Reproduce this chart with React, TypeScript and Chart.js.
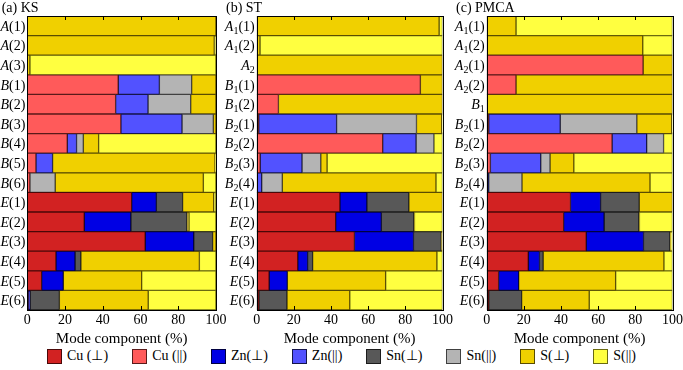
import React, { useEffect, useRef } from "react";
import { Chart, registerables } from "chart.js";
Chart.register(...registerables);

const SERIES_NAMES = ["Cu (⊥)", "Cu (||)", "Zn(⊥)", "Zn(||)", "Sn(⊥)", "Sn(||)", "S(⊥)", "S(||)"];
const SERIES_COLORS = ["#D22222", "#FF5A5A", "#0000E4", "#5252FF", "#585858", "#B4B4B4", "#F0D000", "#FFFF40"];
const SERIES_BORDERS = ["#4A0808", "#5A1A1A", "#000040", "#15154A", "#1C1C1C", "#404040", "#5A4C00", "#6A6A10"];
const X_TICKS = [0, 20, 40, 60, 80, 100];

// (a) KS
const ksLabels = ["A(1)", "A(2)", "A(3)", "B(1)", "B(2)", "B(3)", "B(4)", "B(5)", "B(6)", "E(1)", "E(2)", "E(3)", "E(4)", "E(5)", "E(6)"];
const ksCuPerp = [0, 0, 0, 0, 0, 0, 0, 0, 0, 55.3, 30.2, 62.5, 15.2, 7.6, 0.5];
const ksCuPar = [0, 0, 0, 48.2, 46.8, 49.6, 21.2, 4.6, 1.4, 0, 0, 0, 0, 0, 0];
const ksZnPerp = [0, 0, 0, 0, 0, 0, 0, 0, 0, 13.1, 24.7, 25.7, 10.1, 11.5, 1.0];
const ksZnPar = [0, 0, 0, 21.8, 17.2, 32.4, 4.9, 8.8, 0, 0, 0, 0, 0, 0, 0];
const ksSnPerp = [0, 0, 0, 0, 0, 0, 0, 0, 0, 13.9, 29.7, 10.0, 3.1, 0, 15.5];
const ksSnPar = [0, 0, 0, 17.1, 22.6, 16.6, 3.6, 0, 13.4, 0, 0, 0, 0, 0, 0];
const ksSPerp = [100, 99.1, 1.4, 12.9, 13.4, 1.4, 8.1, 86.1, 78.5, 16.5, 1.1, 1.8, 62.8, 41.5, 47.1];
const ksSPar = [0, 0.9, 98.6, 0, 0, 0, 62.2, 0.5, 6.7, 1.2, 14.3, 0, 8.8, 39.4, 35.9];

// (b) ST
const stLabels = ["A₁(1)", "A₁(2)", "A₂", "B₁(1)", "B₁(2)", "B₂(1)", "B₂(2)", "B₂(3)", "B₂(4)", "E(1)", "E(2)", "E(3)", "E(4)", "E(5)", "E(6)"];
const stCuPerp = [0, 0, 0, 0, 0, 0, 0, 0, 0, 44.8, 42.5, 52.6, 22.1, 6.7, 1.2];
const stCuPar = [0, 0, 0, 88.1, 11.7, 1.1, 67.8, 1.9, 0, 0, 0, 0, 0, 0, 0];
const stZnPerp = [0, 0, 0, 0, 0, 0, 0, 0, 0, 14.5, 24.6, 31.8, 5.3, 9.8, 0];
const stZnPar = [0, 0, 0, 0, 0, 41.9, 18.0, 22.5, 2.7, 0, 0, 0, 0, 0, 0];
const stSnPerp = [0, 0, 0, 0, 0, 0, 0, 0, 0, 22.6, 17.5, 14.9, 2.7, 0, 15.1];
const stSnPar = [0, 0, 0, 0, 0, 43.0, 9.6, 10.1, 11.1, 0, 0, 0, 0, 0, 0];
const stSPerp = [98.2, 1.8, 100, 11.9, 88.3, 13.6, 0, 3.4, 82.7, 18.1, 0.3, 0.7, 66.9, 52.9, 33.8];
const stSPar = [1.8, 98.2, 0, 0, 0, 0.4, 4.6, 62.1, 3.5, 0, 15.1, 0, 3.0, 30.6, 49.9];

// (c) PMCA
const pmLabels = ["A₁(1)", "A₁(2)", "A₂(1)", "A₂(2)", "B₁", "B₂(1)", "B₂(2)", "B₂(3)", "B₂(4)", "E(1)", "E(2)", "E(3)", "E(4)", "E(5)", "E(6)"];
const pmCuPerp = [0, 0, 0, 0, 0, 0, 0, 0, 0, 45.1, 41.4, 53.6, 22.4, 6.4, 1.1];
const pmCuPar = [0, 0, 84.2, 15.8, 0, 1.1, 67.5, 2.0, 0, 0, 0, 0, 0, 0, 0];
const pmZnPerp = [0, 0, 0, 0, 0, 0, 0, 0, 0, 16.2, 21.8, 30.8, 6.0, 10.8, 0];
const pmZnPar = [0, 0, 0, 0, 0, 38.5, 18.6, 27.1, 1.1, 0, 0, 0, 0, 0, 0];
const pmSnPerp = [0, 0, 0, 0, 0, 0, 0, 0, 0, 20.8, 18.7, 14.2, 2.0, 0, 17.7];
const pmSnPar = [0, 0, 0, 0, 0, 41.2, 9.1, 5.0, 17.9, 0, 0, 0, 0, 0, 0];
const pmSPerp = [15.8, 84.0, 15.8, 84.2, 100, 18.8, 0, 12.8, 68.9, 17.9, 0.3, 0.4, 65.0, 52.2, 36.4];
const pmSPar = [84.2, 16.0, 0, 0, 0, 0.4, 4.8, 53.1, 12.1, 0, 17.8, 1.0, 4.6, 30.6, 44.8];

const FONT = "'Liberation Serif', 'Times New Roman', serif";
const SUBS = "₀₁₂₃₄₅₆₇₈₉";

function drawRowLabel(ctx: CanvasRenderingContext2D, label: string, xRight: number, yMid: number) {
  const letter = label[0];
  let i = 1;
  let sub = "";
  while (i < label.length && SUBS.includes(label[i])) {
    sub += String(SUBS.indexOf(label[i]));
    i++;
  }
  const rest = label.slice(i);
  const fL = `italic 14px ${FONT}`;
  const fS = `10px ${FONT}`;
  const fR = `14px ${FONT}`;
  ctx.font = fL;
  const wL = ctx.measureText(letter).width;
  ctx.font = fS;
  const wS = sub ? ctx.measureText(sub).width : 0;
  ctx.font = fR;
  const wR = ctx.measureText(rest).width;
  let x = xRight - (wL + wS + wR);
  const base = yMid + 5;
  ctx.textAlign = "left";
  ctx.textBaseline = "alphabetic";
  ctx.fillStyle = "#000";
  ctx.font = fL;
  ctx.fillText(letter, x, base);
  x += wL;
  if (sub) {
    ctx.font = fS;
    ctx.fillText(sub, x, base + 3);
    x += wS;
  }
  ctx.font = fR;
  ctx.fillText(rest, x, base);
}

const decorPlugin = {
  id: "decor",
  afterDatasetsDraw(chart: any) {
    const ctx: CanvasRenderingContext2D = chart.ctx;
    const { left, right, top, bottom } = chart.chartArea;
    const opts = chart.options.plugins.decor;
    const xs = chart.scales.x;
    const ys = chart.scales.y;
    ctx.save();
    ctx.strokeStyle = "#000";
    ctx.lineWidth = 1;
    ctx.strokeRect(Math.round(left) + 0.5, Math.round(top) + 0.5, Math.round(right) - Math.round(left), Math.round(bottom) - Math.round(top));
    ctx.beginPath();
    X_TICKS.forEach((v) => {
      const px = Math.round(xs.getPixelForValue(v)) + 0.5;
      ctx.moveTo(px, top);
      ctx.lineTo(px, top + 4);
      ctx.moveTo(px, bottom);
      ctx.lineTo(px, bottom - 4);
    });
    ctx.stroke();
    chart.data.labels.forEach((lab: string, i: number) => {
      drawRowLabel(ctx, lab, left - 2, ys.getPixelForValue(i));
    });
    ctx.font = `14px ${FONT}`;
    ctx.fillStyle = "#000";
    ctx.textAlign = "left";
    ctx.textBaseline = "alphabetic";
    ctx.fillText(opts.title, opts.titleX, 12);
    ctx.restore();
  },
};

type PanelProps = {
  title: string;
  labels: string[];
  series: number[][];
  left: number;
  width: number;
  plotLeft: number;
  plotRight: number;
  titleX: number;
};

function Panel({ title, labels, series, left, width, plotLeft, plotRight, titleX }: PanelProps) {
  const ref = useRef<HTMLCanvasElement>(null);
  useEffect(() => {
    if (!ref.current) return;
    const chart = new Chart(ref.current, {
      type: "bar",
      data: {
        labels,
        datasets: series.map((vals, i) => ({
          label: SERIES_NAMES[i],
          data: vals.map((v) => (v > 0 ? v : null)),
          backgroundColor: SERIES_COLORS[i],
          borderColor: SERIES_BORDERS[i],
          borderWidth: 1,
          borderSkipped: false,
          barPercentage: 1,
          categoryPercentage: 1,
        })),
      },
      options: {
        indexAxis: "y",
        responsive: false,
        animation: false,
        layout: { padding: { top: 16, left: 0, right: width - plotRight, bottom: 0 } },
        plugins: {
          legend: { display: false },
          tooltip: { enabled: false },
          decor: { title, titleX },
        } as any,
        scales: {
          x: {
            stacked: true,
            min: 0,
            max: 100,
            position: "bottom",
            grid: { display: false, drawTicks: false },
            border: { display: false },
            ticks: {
              stepSize: 20,
              color: "#000",
              font: { family: FONT, size: 14, lineHeight: 1 },
              padding: 3,
              maxRotation: 0,
              autoSkip: false,
            },
            title: {
              display: true,
              text: "Mode component (%)",
              color: "#000",
              font: { family: FONT, size: 15, lineHeight: 1 },
              padding: { top: 2, bottom: 0 },
            },
          },
          y: {
            stacked: true,
            grid: { display: false, drawTicks: false },
            border: { display: false },
            ticks: { display: false },
            afterFit: (s: any) => {
              s.width = plotLeft;
            },
          },
        },
      } as any,
      plugins: [decorPlugin],
    });
    return () => chart.destroy();
  }, []);
  return (
    <canvas
      ref={ref}
      width={width}
      height={347}
      style={{ position: "absolute", left, top: 0, width, height: 347 }}
    />
  );
}

export default function App() {
  const ks = [ksCuPerp, ksCuPar, ksZnPerp, ksZnPar, ksSnPerp, ksSnPar, ksSPerp, ksSPar];
  const st = [stCuPerp, stCuPar, stZnPerp, stZnPar, stSnPerp, stSnPar, stSPerp, stSPar];
  const pm = [pmCuPerp, pmCuPar, pmZnPerp, pmZnPar, pmSnPerp, pmSnPar, pmSPerp, pmSPar];
  return (
    <div style={{ position: "absolute", left: 0, top: 0, width: 683, height: 370, overflow: "hidden", background: "#fff" }}>
      <Panel title="(a) KS" labels={ksLabels} series={ks} left={0} width={232} plotLeft={27.3} plotRight={216} titleX={1.7} />
      <Panel title="(b) ST" labels={stLabels} series={st} left={224} width={232} plotLeft={32.7} plotRight={221} titleX={2} />
      <Panel title="(c) PMCA" labels={pmLabels} series={pm} left={454} width={232} plotLeft={32.7} plotRight={220} titleX={2} />
      <div
        style={{
          position: "absolute",
          left: 0,
          top: 348,
          width: 683,
          display: "flex",
          justifyContent: "center",
          alignItems: "center",
          gap: 24,
          fontFamily: FONT,
          fontSize: 14,
          lineHeight: "16px",
          color: "#000",
        }}
      >
        {SERIES_NAMES.map((n, i) => (
          <div key={n} style={{ display: "flex", alignItems: "center" }}>
            <span
              style={{
                display: "inline-block",
                width: 13,
                height: 13,
                background: SERIES_COLORS[i],
                border: `1px solid ${SERIES_BORDERS[i]}`,
                marginRight: 5,
              }}
            />
            <span>{n}</span>
          </div>
        ))}
      </div>
    </div>
  );
}
